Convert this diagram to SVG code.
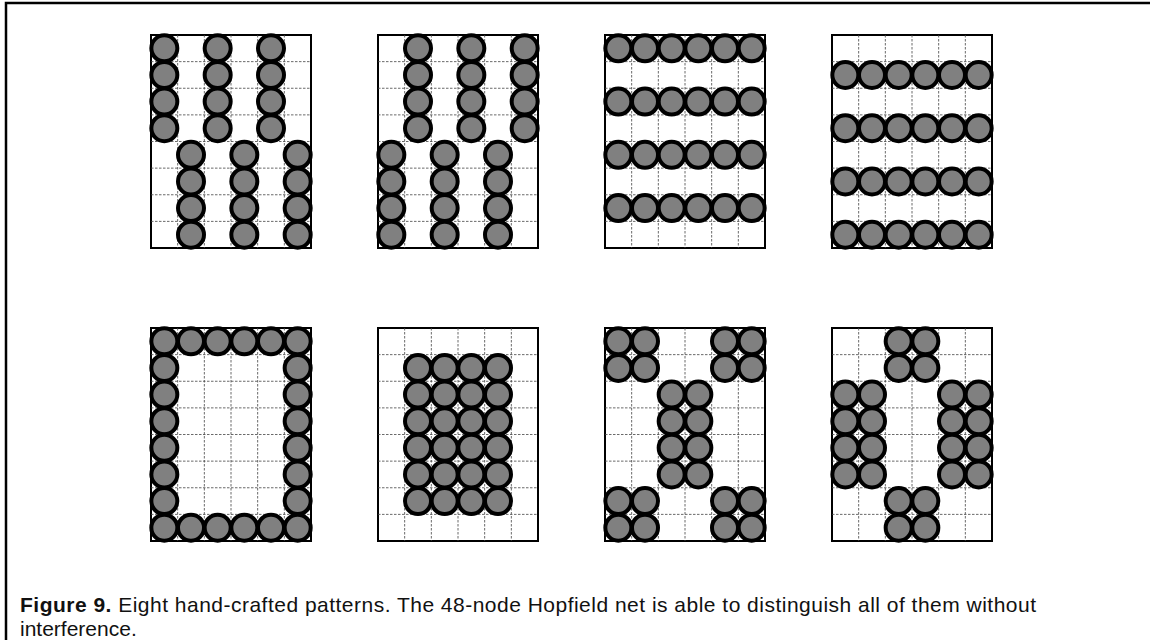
<svg xmlns="http://www.w3.org/2000/svg" xmlns:xlink="http://www.w3.org/1999/xlink" width="1150" height="640" viewBox="0 0 1150 640">
<style>
.frame{fill:none;stroke:#000;stroke-width:2.5}
.box{fill:#fff;stroke:#000;stroke-width:2}
.gl{stroke:#444;stroke-width:0.8;stroke-dasharray:2.5 1.5;fill:none}
.n{fill:#808080;stroke:#000;stroke-width:4}
.cap{font-family:"Liberation Sans",Arial,sans-serif;font-size:21px;fill:#111}
.b{font-weight:bold}
</style>
<defs>
<g id="grid">
<rect class="box" x="0" y="0" width="160" height="213"/>
<path class="gl" d="M26.67,0V213M53.33,0V213M80,0V213M106.67,0V213M133.33,0V213M0,26.63H160M0,53.25H160M0,79.88H160M0,106.5H160M0,133.13H160M0,159.75H160M0,186.38H160"/>
</g>
<circle id="c" class="n" r="13"/>
</defs>
<path class="frame" d="M6,640V3H1150"/>

<g id="pattern1" transform="translate(151,35)">
<use xlink:href="#grid"/>
<use xlink:href="#c" x="13.33" y="13.31"/><use xlink:href="#c" x="13.33" y="39.94"/><use xlink:href="#c" x="13.33" y="66.56"/><use xlink:href="#c" x="13.33" y="93.19"/>
<use xlink:href="#c" x="66.67" y="13.31"/><use xlink:href="#c" x="66.67" y="39.94"/><use xlink:href="#c" x="66.67" y="66.56"/><use xlink:href="#c" x="66.67" y="93.19"/>
<use xlink:href="#c" x="120" y="13.31"/><use xlink:href="#c" x="120" y="39.94"/><use xlink:href="#c" x="120" y="66.56"/><use xlink:href="#c" x="120" y="93.19"/>
<use xlink:href="#c" x="40" y="119.81"/><use xlink:href="#c" x="40" y="146.44"/><use xlink:href="#c" x="40" y="173.06"/><use xlink:href="#c" x="40" y="199.69"/>
<use xlink:href="#c" x="93.33" y="119.81"/><use xlink:href="#c" x="93.33" y="146.44"/><use xlink:href="#c" x="93.33" y="173.06"/><use xlink:href="#c" x="93.33" y="199.69"/>
<use xlink:href="#c" x="146.67" y="119.81"/><use xlink:href="#c" x="146.67" y="146.44"/><use xlink:href="#c" x="146.67" y="173.06"/><use xlink:href="#c" x="146.67" y="199.69"/>
</g>

<g id="pattern2" transform="translate(378,35)">
<use xlink:href="#grid"/>
<use xlink:href="#c" x="40" y="13.31"/><use xlink:href="#c" x="40" y="39.94"/><use xlink:href="#c" x="40" y="66.56"/><use xlink:href="#c" x="40" y="93.19"/>
<use xlink:href="#c" x="93.33" y="13.31"/><use xlink:href="#c" x="93.33" y="39.94"/><use xlink:href="#c" x="93.33" y="66.56"/><use xlink:href="#c" x="93.33" y="93.19"/>
<use xlink:href="#c" x="146.67" y="13.31"/><use xlink:href="#c" x="146.67" y="39.94"/><use xlink:href="#c" x="146.67" y="66.56"/><use xlink:href="#c" x="146.67" y="93.19"/>
<use xlink:href="#c" x="13.33" y="119.81"/><use xlink:href="#c" x="13.33" y="146.44"/><use xlink:href="#c" x="13.33" y="173.06"/><use xlink:href="#c" x="13.33" y="199.69"/>
<use xlink:href="#c" x="66.67" y="119.81"/><use xlink:href="#c" x="66.67" y="146.44"/><use xlink:href="#c" x="66.67" y="173.06"/><use xlink:href="#c" x="66.67" y="199.69"/>
<use xlink:href="#c" x="120" y="119.81"/><use xlink:href="#c" x="120" y="146.44"/><use xlink:href="#c" x="120" y="173.06"/><use xlink:href="#c" x="120" y="199.69"/>
</g>

<g id="pattern3" transform="translate(605,35)">
<use xlink:href="#grid"/>
<use xlink:href="#c" x="13.33" y="13.31"/><use xlink:href="#c" x="40" y="13.31"/><use xlink:href="#c" x="66.67" y="13.31"/><use xlink:href="#c" x="93.33" y="13.31"/><use xlink:href="#c" x="120" y="13.31"/><use xlink:href="#c" x="146.67" y="13.31"/>
<use xlink:href="#c" x="13.33" y="66.56"/><use xlink:href="#c" x="40" y="66.56"/><use xlink:href="#c" x="66.67" y="66.56"/><use xlink:href="#c" x="93.33" y="66.56"/><use xlink:href="#c" x="120" y="66.56"/><use xlink:href="#c" x="146.67" y="66.56"/>
<use xlink:href="#c" x="13.33" y="119.81"/><use xlink:href="#c" x="40" y="119.81"/><use xlink:href="#c" x="66.67" y="119.81"/><use xlink:href="#c" x="93.33" y="119.81"/><use xlink:href="#c" x="120" y="119.81"/><use xlink:href="#c" x="146.67" y="119.81"/>
<use xlink:href="#c" x="13.33" y="173.06"/><use xlink:href="#c" x="40" y="173.06"/><use xlink:href="#c" x="66.67" y="173.06"/><use xlink:href="#c" x="93.33" y="173.06"/><use xlink:href="#c" x="120" y="173.06"/><use xlink:href="#c" x="146.67" y="173.06"/>
</g>

<g id="pattern4" transform="translate(832,35)">
<use xlink:href="#grid"/>
<use xlink:href="#c" x="13.33" y="39.94"/><use xlink:href="#c" x="40" y="39.94"/><use xlink:href="#c" x="66.67" y="39.94"/><use xlink:href="#c" x="93.33" y="39.94"/><use xlink:href="#c" x="120" y="39.94"/><use xlink:href="#c" x="146.67" y="39.94"/>
<use xlink:href="#c" x="13.33" y="93.19"/><use xlink:href="#c" x="40" y="93.19"/><use xlink:href="#c" x="66.67" y="93.19"/><use xlink:href="#c" x="93.33" y="93.19"/><use xlink:href="#c" x="120" y="93.19"/><use xlink:href="#c" x="146.67" y="93.19"/>
<use xlink:href="#c" x="13.33" y="146.44"/><use xlink:href="#c" x="40" y="146.44"/><use xlink:href="#c" x="66.67" y="146.44"/><use xlink:href="#c" x="93.33" y="146.44"/><use xlink:href="#c" x="120" y="146.44"/><use xlink:href="#c" x="146.67" y="146.44"/>
<use xlink:href="#c" x="13.33" y="199.69"/><use xlink:href="#c" x="40" y="199.69"/><use xlink:href="#c" x="66.67" y="199.69"/><use xlink:href="#c" x="93.33" y="199.69"/><use xlink:href="#c" x="120" y="199.69"/><use xlink:href="#c" x="146.67" y="199.69"/>
</g>

<g id="pattern5" transform="translate(151,328)">
<use xlink:href="#grid"/>
<use xlink:href="#c" x="13.33" y="13.31"/><use xlink:href="#c" x="40" y="13.31"/><use xlink:href="#c" x="66.67" y="13.31"/><use xlink:href="#c" x="93.33" y="13.31"/><use xlink:href="#c" x="120" y="13.31"/><use xlink:href="#c" x="146.67" y="13.31"/>
<use xlink:href="#c" x="13.33" y="39.94"/><use xlink:href="#c" x="146.67" y="39.94"/>
<use xlink:href="#c" x="13.33" y="66.56"/><use xlink:href="#c" x="146.67" y="66.56"/>
<use xlink:href="#c" x="13.33" y="93.19"/><use xlink:href="#c" x="146.67" y="93.19"/>
<use xlink:href="#c" x="13.33" y="119.81"/><use xlink:href="#c" x="146.67" y="119.81"/>
<use xlink:href="#c" x="13.33" y="146.44"/><use xlink:href="#c" x="146.67" y="146.44"/>
<use xlink:href="#c" x="13.33" y="173.06"/><use xlink:href="#c" x="146.67" y="173.06"/>
<use xlink:href="#c" x="13.33" y="199.69"/><use xlink:href="#c" x="40" y="199.69"/><use xlink:href="#c" x="66.67" y="199.69"/><use xlink:href="#c" x="93.33" y="199.69"/><use xlink:href="#c" x="120" y="199.69"/><use xlink:href="#c" x="146.67" y="199.69"/>
</g>

<g id="pattern6" transform="translate(378,328)">
<use xlink:href="#grid"/>
<use xlink:href="#c" x="40" y="39.94"/><use xlink:href="#c" x="66.67" y="39.94"/><use xlink:href="#c" x="93.33" y="39.94"/><use xlink:href="#c" x="120" y="39.94"/>
<use xlink:href="#c" x="40" y="66.56"/><use xlink:href="#c" x="66.67" y="66.56"/><use xlink:href="#c" x="93.33" y="66.56"/><use xlink:href="#c" x="120" y="66.56"/>
<use xlink:href="#c" x="40" y="93.19"/><use xlink:href="#c" x="66.67" y="93.19"/><use xlink:href="#c" x="93.33" y="93.19"/><use xlink:href="#c" x="120" y="93.19"/>
<use xlink:href="#c" x="40" y="119.81"/><use xlink:href="#c" x="66.67" y="119.81"/><use xlink:href="#c" x="93.33" y="119.81"/><use xlink:href="#c" x="120" y="119.81"/>
<use xlink:href="#c" x="40" y="146.44"/><use xlink:href="#c" x="66.67" y="146.44"/><use xlink:href="#c" x="93.33" y="146.44"/><use xlink:href="#c" x="120" y="146.44"/>
<use xlink:href="#c" x="40" y="173.06"/><use xlink:href="#c" x="66.67" y="173.06"/><use xlink:href="#c" x="93.33" y="173.06"/><use xlink:href="#c" x="120" y="173.06"/>
</g>

<g id="pattern7" transform="translate(605,328)">
<use xlink:href="#grid"/>
<use xlink:href="#c" x="13.33" y="13.31"/><use xlink:href="#c" x="40" y="13.31"/><use xlink:href="#c" x="120" y="13.31"/><use xlink:href="#c" x="146.67" y="13.31"/>
<use xlink:href="#c" x="13.33" y="39.94"/><use xlink:href="#c" x="40" y="39.94"/><use xlink:href="#c" x="120" y="39.94"/><use xlink:href="#c" x="146.67" y="39.94"/>
<use xlink:href="#c" x="66.67" y="66.56"/><use xlink:href="#c" x="93.33" y="66.56"/>
<use xlink:href="#c" x="66.67" y="93.19"/><use xlink:href="#c" x="93.33" y="93.19"/>
<use xlink:href="#c" x="66.67" y="119.81"/><use xlink:href="#c" x="93.33" y="119.81"/>
<use xlink:href="#c" x="66.67" y="146.44"/><use xlink:href="#c" x="93.33" y="146.44"/>
<use xlink:href="#c" x="13.33" y="173.06"/><use xlink:href="#c" x="40" y="173.06"/><use xlink:href="#c" x="120" y="173.06"/><use xlink:href="#c" x="146.67" y="173.06"/>
<use xlink:href="#c" x="13.33" y="199.69"/><use xlink:href="#c" x="40" y="199.69"/><use xlink:href="#c" x="120" y="199.69"/><use xlink:href="#c" x="146.67" y="199.69"/>
</g>

<g id="pattern8" transform="translate(832,328)">
<use xlink:href="#grid"/>
<use xlink:href="#c" x="66.67" y="13.31"/><use xlink:href="#c" x="93.33" y="13.31"/>
<use xlink:href="#c" x="66.67" y="39.94"/><use xlink:href="#c" x="93.33" y="39.94"/>
<use xlink:href="#c" x="13.33" y="66.56"/><use xlink:href="#c" x="40" y="66.56"/><use xlink:href="#c" x="120" y="66.56"/><use xlink:href="#c" x="146.67" y="66.56"/>
<use xlink:href="#c" x="13.33" y="93.19"/><use xlink:href="#c" x="40" y="93.19"/><use xlink:href="#c" x="120" y="93.19"/><use xlink:href="#c" x="146.67" y="93.19"/>
<use xlink:href="#c" x="13.33" y="119.81"/><use xlink:href="#c" x="40" y="119.81"/><use xlink:href="#c" x="120" y="119.81"/><use xlink:href="#c" x="146.67" y="119.81"/>
<use xlink:href="#c" x="13.33" y="146.44"/><use xlink:href="#c" x="40" y="146.44"/><use xlink:href="#c" x="120" y="146.44"/><use xlink:href="#c" x="146.67" y="146.44"/>
<use xlink:href="#c" x="66.67" y="173.06"/><use xlink:href="#c" x="93.33" y="173.06"/>
<use xlink:href="#c" x="66.67" y="199.69"/><use xlink:href="#c" x="93.33" y="199.69"/>
</g>

<g id="caption">
<text class="cap" x="20" y="612" textLength="1016" lengthAdjust="spacing"><tspan class="b">Figure 9.</tspan> Eight hand-crafted patterns. The 48-node Hopfield net is able to distinguish all of them without</text>
<text class="cap" x="20" y="636">interference.</text>
</g>
</svg>
